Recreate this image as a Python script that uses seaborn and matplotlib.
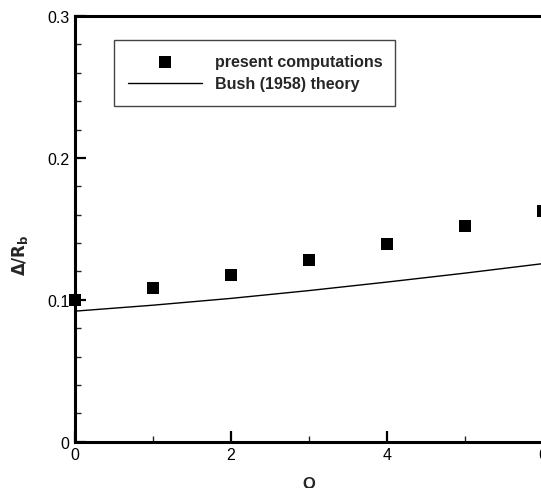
import matplotlib
matplotlib.use("Agg")
import matplotlib.pyplot as plt
import seaborn as sns
import pandas as pd
from matplotlib.ticker import MultipleLocator

# data
q_comp = [0, 1, 2, 3, 4, 5, 6]
delta_comp = [0.100, 0.108, 0.1175, 0.128, 0.139, 0.1518, 0.1624]
q_theory = [0, 1, 2, 3, 4, 5, 6]
delta_theory = [0.0920, 0.0962, 0.1010, 0.1065, 0.1125, 0.1188, 0.1255]
x_ticks = [0, 2, 4, 6]
x_ticklabels = ["0", "2", "4", "6"]
y_ticks = [0, 0.1, 0.2, 0.3]
y_ticklabels = ["0", "0.1", "0.2", "0.3"]

sns.set_style("ticks")
plt.rcParams['font.family'] = ['Liberation Sans', 'DejaVu Sans']

fig = plt.figure(figsize=(5.41, 4.89), dpi=100)
ax = fig.add_axes([75/541, 1-442.7/489, (543-75)/541, (442.7-17)/489])

df_c = pd.DataFrame({"Q": q_comp, "d": delta_comp})
df_t = pd.DataFrame({"Q": q_theory, "d": delta_theory})

sns.lineplot(data=df_t, x="Q", y="d", ax=ax, color="black", linewidth=1.0,
             label="Bush (1958) theory", zorder=2)
sns.scatterplot(data=df_c, x="Q", y="d", ax=ax, marker="s", s=72, color="black",
                edgecolor="black", linewidth=0, label="present computations",
                zorder=3, clip_on=False)

ax.set_xlim(0, 6)
ax.set_ylim(0, 0.3)
ax.xaxis.set_minor_locator(MultipleLocator(1))
ax.yaxis.set_minor_locator(MultipleLocator(0.02))
ax.set_xticks(x_ticks)
ax.set_xticklabels(x_ticklabels)
ax.set_yticks(y_ticks)
ax.set_yticklabels(y_ticklabels)

for s in ["left", "bottom", "top"]:
    ax.spines[s].set_linewidth(2.2)
    ax.spines[s].set_color("black")
ax.spines["right"].set_visible(False)

ax.tick_params(which="major", direction="in", length=8, width=1.6,
               labelsize=11.5, colors="black", pad=4, top=False, right=False)
ax.tick_params(which="minor", direction="in", length=4.5, width=1.0,
               top=False, right=False)

ax.set_xlabel("Q", fontsize=12, fontweight="bold", labelpad=10)
ax.set_ylabel(r"$\mathbf{\Delta/R_b}$", fontsize=12, fontweight="bold")
ax.yaxis.set_label_coords(-0.097, 0.441)

h, l = ax.get_legend_handles_labels()
order = [l.index("present computations"), l.index("Bush (1958) theory")]
leg = ax.legend([h[i] for i in order], [l[i] for i in order],
                loc="upper left", bbox_to_anchor=(0.083, 0.944, 0.600, 0.0),
                mode="expand", frameon=True, fancybox=False, framealpha=1,
                edgecolor="#444444", handlelength=4.6,
                handletextpad=0.85, labelspacing=0.45, borderpad=0.9,
                borderaxespad=0, scatterpoints=1, numpoints=1,
                prop={"weight": "bold", "size": 11.5})
leg.get_frame().set_linewidth(1.0)

fig.savefig("out.png", dpi=100)
